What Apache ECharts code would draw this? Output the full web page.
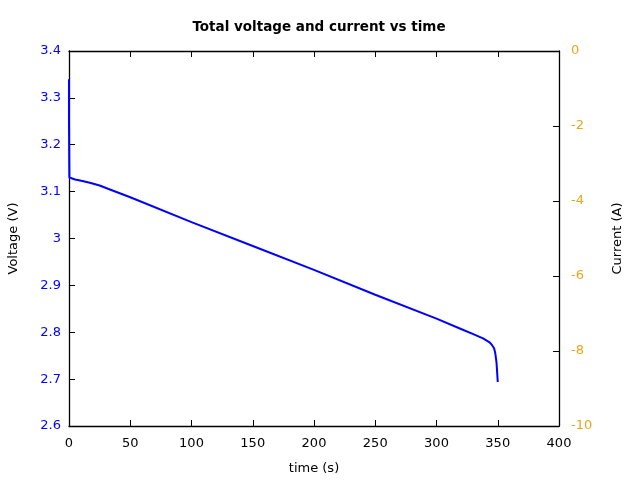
<!DOCTYPE html>
<html><head><meta charset="utf-8">
<script src="https://cdn.jsdelivr.net/npm/echarts@6/dist/echarts.min.js"></script>
<style>html,body{margin:0;padding:0;background:#fff}#c{width:640px;height:480px}</style>
</head><body><div id="c"></div>
<script>
var timeS = [0, 0, 0.3, 5, 10, 17, 25, 35, 50, 100, 150, 200, 250, 300, 320, 330, 338, 343, 345, 347, 348, 349, 349.5, 350];
var voltage = [3.34, 3.25, 3.13, 3.126, 3.123, 3.119, 3.113, 3.103, 3.088, 3.035, 2.984, 2.933, 2.880, 2.829, 2.807, 2.796, 2.787, 2.779, 2.774, 2.766, 2.755, 2.735, 2.715, 2.694];
var xTicks = {min: 0, max: 400, interval: 50};
var vTicks = {min: 2.6, max: 3.4, interval: 0.1};
var iTicks = {min: -10, max: 0, interval: 2};

var font = 'DejaVu Sans';
var chart = echarts.init(document.getElementById('c'));
var axisLine = {show: true, onZero: false, lineStyle: {color: '#000', width: 1.3}};
var tick = {show: true, inside: true, length: 6, lineStyle: {color: '#000'}};
chart.setOption({
  animation: false,
  title: {text: 'Total voltage and current vs time', left: 314, textAlign: 'center', top: 15,
    textStyle: {fontFamily: font, fontSize: 13.5, fontWeight: 'bold', color: '#000'}},
  grid: {left: 69, right: 81, top: 51, bottom: 54, containLabel: false, outerBoundsMode: 'none'},
  xAxis: [{
    type: 'value', min: xTicks.min, max: xTicks.max, interval: xTicks.interval, position: 'bottom',
    name: 'time (s)', nameLocation: 'middle', nameGap: 36,
    nameTextStyle: {fontFamily: font, fontSize: 13, color: '#000'},
    axisLine: axisLine, axisTick: tick, splitLine: {show: false},
    axisLabel: {fontFamily: font, fontSize: 13, color: '#000', margin: 11}
  }, {
    type: 'value', min: xTicks.min, max: xTicks.max, interval: xTicks.interval, position: 'top',
    axisLine: axisLine, axisTick: tick, splitLine: {show: false}, axisLabel: {show: false}
  }],
  yAxis: [{
    type: 'value', min: vTicks.min, max: vTicks.max, interval: vTicks.interval, position: 'left',
    name: 'Voltage (V)', nameLocation: 'middle', nameGap: 49,
    nameTextStyle: {fontFamily: font, fontSize: 13, color: '#000'},
    axisLine: axisLine, axisTick: tick, splitLine: {show: false},
    axisLabel: {fontFamily: font, fontSize: 13, color: '#0000ff', margin: 8}
  }, {
    type: 'value', min: iTicks.min, max: iTicks.max, interval: iTicks.interval, position: 'right',
    name: 'Current (A)', nameLocation: 'middle', nameGap: 52,
    nameTextStyle: {fontFamily: font, fontSize: 13, color: '#000'},
    axisLine: axisLine, axisTick: tick, splitLine: {show: false},
    axisLabel: {fontFamily: font, fontSize: 13, color: '#eba51c', margin: 12}
  }],
  series: [{
    type: 'line', xAxisIndex: 0, yAxisIndex: 0, showSymbol: false, symbol: 'none',
    lineStyle: {color: '#0000ff', width: 2},
    data: timeS.map(function (t, i) { return [t, voltage[i]]; })
  }]
});
</script></body></html>
